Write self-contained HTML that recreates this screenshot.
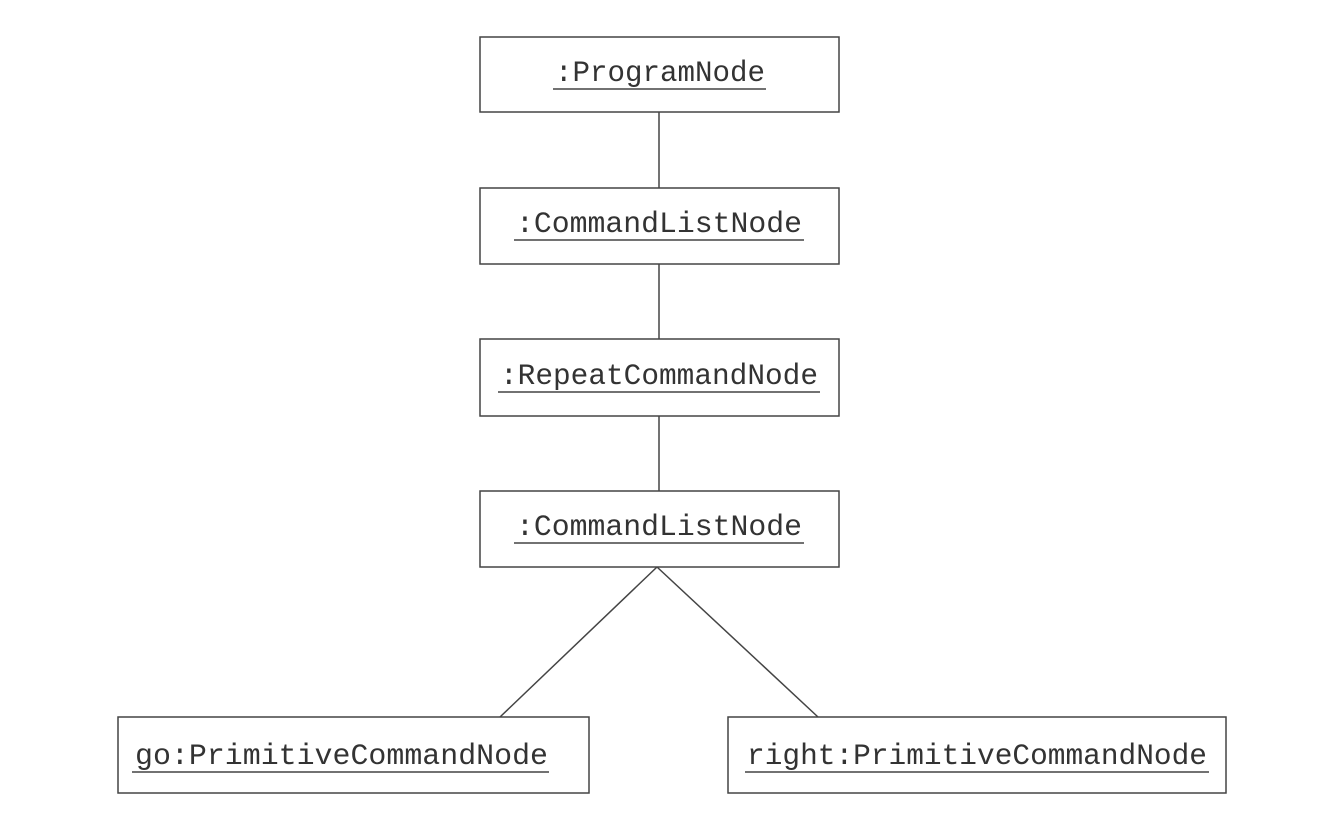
<!DOCTYPE html>
<html><head><style>
body{margin:0;background:#fff;}
svg text{font-family:"Liberation Mono",monospace;font-size:30px;fill:#333;}
</style></head><body>
<svg width="1323" height="816" xmlns="http://www.w3.org/2000/svg">
<g stroke="#444" stroke-width="1.5" fill="none">
<rect x="480" y="37" width="359" height="75"/>
<rect x="480" y="188" width="359" height="76"/>
<rect x="480" y="339" width="359" height="77"/>
<rect x="480" y="491" width="359" height="76"/>
<rect x="118" y="717" width="471" height="76"/>
<rect x="728" y="717" width="498" height="76"/>
<line x1="659" y1="112" x2="659" y2="188"/>
<line x1="659" y1="264" x2="659" y2="339"/>
<line x1="659" y1="416" x2="659" y2="491"/>
<line x1="657" y1="567" x2="500" y2="717"/>
<line x1="657" y1="567" x2="818" y2="717"/>
<line x1="553" y1="89" x2="766" y2="89"/>
<line x1="514" y1="240" x2="804" y2="240"/>
<line x1="498" y1="392" x2="820" y2="392"/>
<line x1="514" y1="543" x2="804" y2="543"/>
<line x1="132" y1="772" x2="549" y2="772"/>
<line x1="745" y1="772" x2="1209" y2="772"/>
</g>
<g lengthAdjust="spacingAndGlyphs">
<text x="555" y="81" textLength="210" lengthAdjust="spacingAndGlyphs">:ProgramNode</text>
<text x="516" y="232" textLength="286" lengthAdjust="spacingAndGlyphs">:CommandListNode</text>
<text x="500" y="384" textLength="318" lengthAdjust="spacingAndGlyphs">:RepeatCommandNode</text>
<text x="516" y="535" textLength="286" lengthAdjust="spacingAndGlyphs">:CommandListNode</text>
<text x="135" y="764" textLength="413" lengthAdjust="spacingAndGlyphs">go:PrimitiveCommandNode</text>
<text x="747" y="764" textLength="460" lengthAdjust="spacingAndGlyphs">right:PrimitiveCommandNode</text>
</g>
</svg>
</body></html>
